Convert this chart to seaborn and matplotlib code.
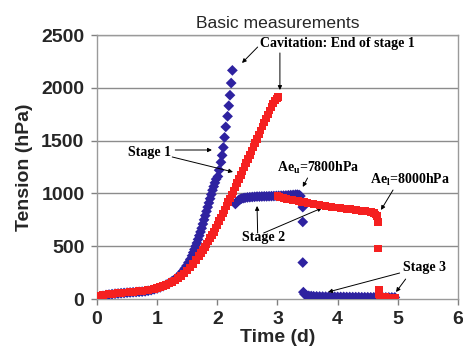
import numpy as np
import pandas as pd
import matplotlib
matplotlib.use('Agg')
import matplotlib.pyplot as plt
import seaborn as sns


# sample 1 (blue diamonds)
blue_t = [0.00, 0.05, 0.10, 0.15, 0.20, 0.25, 0.30, 0.35, 0.40, 0.45, 0.50, 0.55, 0.60, 0.65, 0.70,
          0.75, 0.80, 0.85, 0.90, 0.95, 1.00, 1.05, 1.10, 1.15, 1.20, 1.25, 1.30, 1.35, 1.40, 1.43,
          1.46, 1.49, 1.52, 1.55, 1.58, 1.60, 1.62, 1.64, 1.66, 1.68, 1.70, 1.72, 1.74, 1.76, 1.78,
          1.80, 1.82, 1.84, 1.86, 1.88, 1.90, 1.92, 1.94, 1.96, 1.98, 2.01, 2.03, 2.06, 2.08, 2.10,
          2.12, 2.14, 2.17, 2.19, 2.21, 2.23, 2.25,
          2.30, 2.32, 2.34, 2.36, 2.38, 2.40, 2.43, 2.46, 2.50, 2.54, 2.58, 2.62, 2.66, 2.70, 2.74,
          2.78, 2.82, 2.86, 2.90, 2.94, 2.98, 3.02, 3.06, 3.10, 3.14, 3.18, 3.22, 3.26, 3.30, 3.33,
          3.36, 3.38, 3.40, 3.42, 3.42, 3.42,
          3.43, 3.45, 3.48, 3.52, 3.56, 3.60, 3.65, 3.70, 3.75, 3.80, 3.85, 3.90, 3.95, 4.00, 4.05,
          4.10, 4.15, 4.20, 4.25, 4.30, 4.35, 4.40, 4.45, 4.50, 4.55, 4.60, 4.65, 4.70, 4.75, 4.80,
          4.85, 4.90, 4.95]
blue_v = [5, 20, 30, 38, 42, 46, 50, 52, 55, 57, 60, 62, 64, 66, 68,
          70, 73, 78, 84, 92, 100, 110, 122, 136, 152, 170, 190, 215, 245, 265,
          290, 315, 345, 375, 410, 440, 470, 500, 530, 565, 600, 635, 670, 710, 750,
          790, 830, 870, 910, 950, 990, 1030, 1065, 1100, 1135, 1160, 1220, 1295, 1360, 1435,
          1530, 1630, 1730, 1830, 1930, 2045, 2165,
          900, 915, 928, 938, 945, 950, 955, 958, 962, 964, 966, 968, 970, 970, 971,
          972, 972, 973, 974, 975, 976, 977, 978, 979, 980, 982, 984, 986, 988, 988,
          985, 975, 920, 870, 730, 345,
          65, 45, 35, 30, 28, 26, 25, 24, 23, 22, 22, 21, 21, 20, 20,
          20, 19, 19, 18, 18, 18, 17, 17, 17, 16, 16, 16, 15, 15, 15,
          15, 15, 15]

# sample 2 (red squares)
red_t = [0.00, 0.03, 0.06, 0.10, 0.15, 0.20, 0.25, 0.30, 0.35, 0.40, 0.45, 0.50, 0.55, 0.60, 0.65,
         0.70, 0.75, 0.80, 0.85, 0.90, 0.95, 1.00, 1.05, 1.10, 1.15, 1.20, 1.25, 1.30, 1.35, 1.40,
         1.45, 1.50, 1.55, 1.60, 1.65, 1.70, 1.73, 1.76, 1.79, 1.82, 1.85, 1.88, 1.91, 1.94, 1.97,
         2.00, 2.03, 2.06, 2.09, 2.12, 2.15, 2.18, 2.21, 2.24, 2.27, 2.30, 2.33, 2.36, 2.39, 2.42,
         2.45, 2.48, 2.51, 2.54, 2.57, 2.60, 2.63, 2.66, 2.69, 2.72, 2.75, 2.78, 2.81, 2.84, 2.87,
         2.90, 2.93, 2.96, 2.99, 3.01,
         3.00, 3.03, 3.06, 3.10, 3.15, 3.20, 3.25, 3.30, 3.35, 3.40, 3.45, 3.50, 3.55, 3.60, 3.65,
         3.70, 3.75, 3.80, 3.85, 3.90, 3.95, 4.00, 4.05, 4.10, 4.15, 4.20, 4.25, 4.30, 4.35, 4.40,
         4.45, 4.50, 4.55, 4.60, 4.63, 4.65, 4.66, 4.67, 4.67,
         4.69, 4.69, 4.70, 4.73, 4.76, 4.79, 4.82, 4.85, 4.88, 4.91, 4.94, 4.96]
red_v = [15, 25, 32, 38, 43, 47, 50, 53, 56, 58, 60, 62, 65, 67, 70,
         73, 76, 80, 84, 90, 96, 104, 112, 122, 133, 146, 160, 177, 196, 218,
         243, 270, 300, 333, 370, 410, 435, 462, 490, 518, 545, 575, 605, 637, 670,
         703, 737, 772, 808, 844, 880, 916, 952, 988, 1025, 1062, 1100, 1138, 1176, 1214,
         1252, 1290, 1328, 1366, 1404, 1442, 1480, 1518, 1556, 1594, 1632, 1670, 1708, 1746, 1784,
         1820, 1852, 1880, 1900, 1915,
         975, 965, 960, 955, 948, 942, 936, 931, 926, 921, 916, 911, 906, 900, 895,
         890, 885, 880, 876, 872, 868, 865, 862, 858, 855, 851, 847, 843, 839, 835,
         831, 827, 822, 812, 800, 785, 760, 730, 480,
         85, 50, 25, 18, 17, 17, 16, 16, 15, 15, 15, 15]

x_ticks = [0, 1, 2, 3, 4, 5, 6]
y_ticks = [0, 500, 1000, 1500, 2000, 2500]

blue_col = '#2e22a0'
red_col = '#f52020'

df_blue = pd.DataFrame({'Time': blue_t, 'Tension': blue_v})
df_red = pd.DataFrame({'Time': red_t, 'Tension': red_v})

sns.set_style('white')
plt.rcParams['font.family'] = ['Liberation Sans', 'DejaVu Sans']
plt.rcParams['mathtext.fontset'] = 'custom'
plt.rcParams['mathtext.rm'] = 'Liberation Serif'
plt.rcParams['mathtext.bf'] = 'Liberation Serif:bold'

fig = plt.figure(figsize=(4.64, 3.55), dpi=100)
ax = fig.add_axes([97 / 464, 1 - 299 / 355, 361 / 464, 264 / 355])

for y in y_ticks[1:]:
    ax.axhline(y, color='#8c8c8c', lw=1.0, zorder=0)

sns.scatterplot(data=df_blue, x='Time', y='Tension', marker='D', s=30, color=blue_col,
                edgecolor='none', ax=ax, zorder=3)
sns.scatterplot(data=df_red, x='Time', y='Tension', marker='s', s=30, color=red_col,
                edgecolor='none', ax=ax, zorder=4)

ax.set_xlim(0, 6)
ax.set_ylim(0, 2500)
ax.set_xticks(x_ticks)
ax.set_yticks(y_ticks)
ax.tick_params(axis='both', labelsize=14, length=4, width=1, color='#808080', pad=5,
               direction='out', bottom=True, left=True)
for lab in ax.get_xticklabels() + ax.get_yticklabels():
    lab.set_fontweight('bold')
for side in ['left', 'bottom', 'right', 'top']:
    ax.spines[side].set_color('#9a9a9a')
    ax.spines[side].set_linewidth(1.0)

ax.set_xlabel('Time (d)', fontsize=14, fontweight='bold', labelpad=0)
ax.set_ylabel('Tension (hPa)', fontsize=14, fontweight='bold', labelpad=6)
ax.set_title('Basic measurements', fontsize=12.6, pad=5)

# annotations
note_font = dict(family='Liberation Serif', fontweight='bold', fontsize=10, color='black')
arrow = dict(arrowstyle='-|>', lw=0.7, color='black', mutation_scale=6, shrinkA=0, shrinkB=0)

ax.text(2.71, 2424, 'Cavitation: End of stage 1', ha='left', va='center', **note_font)
ax.annotate('', xy=(2.41, 2235), xytext=(2.67, 2386), arrowprops=arrow)
ax.annotate('', xy=(3.04, 1979), xytext=(3.04, 2330), arrowprops=arrow)

ax.text(0.515, 1383, 'Stage 1', ha='left', va='center', **note_font)
ax.annotate('', xy=(1.91, 1411), xytext=(1.30, 1411), arrowprops=arrow)
ax.annotate('', xy=(2.26, 1203), xytext=(1.25, 1345), arrowprops=arrow)

ax.text(2.99, 1241, r'Ae$_\mathbf{u}$=7800hPa', ha='left', va='center', **note_font)
ax.annotate('', xy=(3.42, 1061), xytext=(3.50, 1146), arrowprops=arrow)

ax.text(4.53, 1127, r'Ae$_\mathbf{l}$=8000hPa', ha='left', va='center', **note_font)
ax.annotate('', xy=(4.72, 843), xytext=(4.92, 1032), arrowprops=arrow)

ax.text(2.41, 578, 'Stage 2', ha='left', va='center', **note_font)
ax.annotate('', xy=(2.66, 881), xytext=(2.67, 625), arrowprops=arrow)
ax.annotate('', xy=(3.74, 862), xytext=(2.77, 625), arrowprops=arrow)

ax.text(5.08, 303, 'Stage 3', ha='left', va='center', **note_font)
ax.annotate('', xy=(3.84, 66), xytext=(5.03, 246), arrowprops=arrow)
ax.annotate('', xy=(4.97, 66), xytext=(5.13, 189), arrowprops=arrow)

plt.savefig('out.png', dpi=100)
plt.close()
